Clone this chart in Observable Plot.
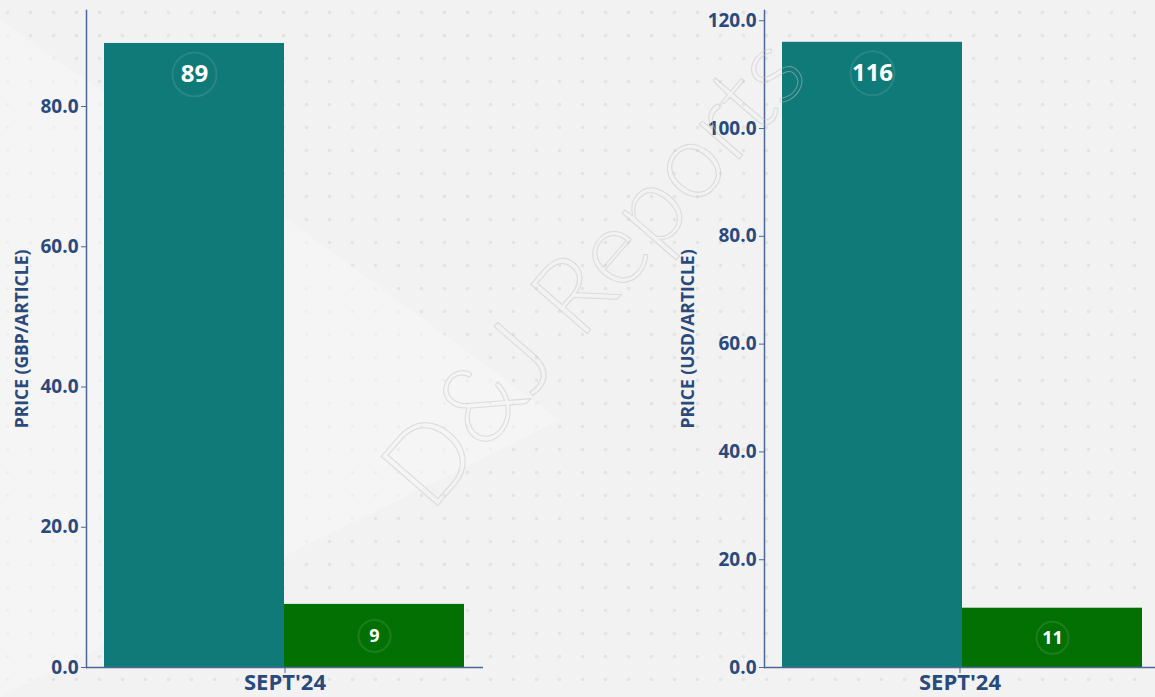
<!DOCTYPE html>
<html><head><meta charset="utf-8">
<script src="https://cdn.jsdelivr.net/npm/d3@7"></script>
<script src="https://cdn.jsdelivr.net/npm/@observablehq/plot@0.6"></script>
<style>
html,body{margin:0;padding:0;}
body{width:1155px;height:697px;overflow:hidden;background:#f2f2f2;font-family:"Open Sans",sans-serif;position:relative;}
#bg{position:absolute;left:0;top:0;width:1155px;height:697px;
  background-image:radial-gradient(circle, #e4e4e4 1.5px, rgba(0,0,0,0) 2.2px);
  background-size:23px 23px;background-position:-4px 1px;}
#shade{position:absolute;left:0;top:0;width:1155px;height:697px;
  background:#f7f7f7;opacity:0.6;clip-path:polygon(0 20px,330px 250px,560px 420px,0 697px);}
#left{position:absolute;left:0;top:0;}
#right{position:absolute;left:660px;top:0;}
#wm{position:absolute;left:290px;top:213px;width:600px;height:110px;text-align:center;
  transform:rotate(-49deg);transform-origin:50% 50%;
  font-family:Lato,sans-serif;font-weight:300;font-size:106px;white-space:nowrap;line-height:110px;
  color:transparent;-webkit-text-stroke:1px rgba(195,195,195,0.5);pointer-events:none;}
</style>
</head><body>
<div id="bg"></div>
<div id="shade"></div>
<div id="left"></div>
<div id="right"></div>
<div id="wm">D&amp;J Reports</div>
<script>
const months = ["SEPT'24"];
const series = ["Series 1", "Series 2"];
const gbpValues = [89, 9];
const usdValues = [116, 11];
const gbpTicks = [0, 20, 40, 60, 80];
const usdTicks = [0, 20, 40, 60, 80, 100, 120];
const gbpLabel = "PRICE (GBP/ARTICLE)";
const usdLabel = "PRICE (USD/ARTICLE)";

const navy = "#2b4a7c";
const axisColor = "#4d6898";

function chart({values, yMax, ticks, label, width, marginLeft, marginRight, insetRight, labelOffset}) {
  const data = series.map((s, i) => ({month: months[0], series: s, value: values[i]}));
  const vmax = d3.max(values);
  const big = d => d.value > vmax / 2;
  const ly = d => big(d) ? d.value : d.value / 2;
  const bigData = data.filter(big), smallData = data.filter(d => !big(d));
  return Plot.plot({
    width, height: 697,
    marginLeft, marginRight, marginTop: 10, marginBottom: 30,
    style: {background: "transparent", fontFamily: "'Open Sans', sans-serif", color: navy, overflow: "visible"},
    fx: {domain: months, padding: 0, label: null},
    x: {domain: series, padding: 0, insetLeft: 18, insetRight, axis: null},
    y: {domain: [0, yMax], axis: null},
    color: {domain: series, range: ["#107a78", "#037003"]},
    marks: [
      Plot.barY(data, {fx: "month", x: "series", y: "value", fill: "series"}),
      Plot.ruleY([0], {stroke: axisColor, strokeWidth: 1.5}),
      Plot.frame({anchor: "left", stroke: axisColor, strokeWidth: 1.5}),
      Plot.axisY({ticks, tickFormat: d => d.toFixed(1), tickSize: 5, tickPadding: 3, stroke: axisColor,
        fill: navy, fontSize: 19, fontWeight: 700, label: null}),
      Plot.text([label], {frameAnchor: "left", textAnchor: "middle", rotate: -90, dx: -labelOffset, fill: navy,
        fontSize: 17.5, fontWeight: 700}),
      Plot.axisFx({anchor: "bottom", tickSize: 6, tickPadding: 1, stroke: axisColor, fill: navy,
        fontSize: 22, fontWeight: 700, label: null}),
      Plot.dot(bigData, {fx: "month", x: "series", y: ly, dy: 31, r: 22, stroke: "white", strokeOpacity: 0.1, strokeWidth: 2}),
      Plot.dot(smallData, {fx: "month", x: "series", y: ly, r: 16, stroke: "white", strokeOpacity: 0.1, strokeWidth: 2}),
      Plot.text(bigData, {fx: "month", x: "series", y: ly, dy: 31, text: d => String(d.value), fill: "white", fontSize: 24, fontWeight: 700}),
      Plot.text(smallData, {fx: "month", x: "series", y: ly, text: d => String(d.value), fill: "white", fontSize: 18, fontWeight: 700})
    ]
  });
}

document.getElementById("left").append(chart({
  values: gbpValues, yMax: 93.7, ticks: gbpTicks, label: gbpLabel,
  width: 500, marginLeft: 86, marginRight: 17, insetRight: 19, labelOffset: 64
}));
document.getElementById("right").append(chart({
  values: usdValues, yMax: 121.9, ticks: usdTicks, label: usdLabel,
  width: 495, marginLeft: 104, marginRight: 0, insetRight: 13, labelOffset: 76
}));
</script>
</body></html>
